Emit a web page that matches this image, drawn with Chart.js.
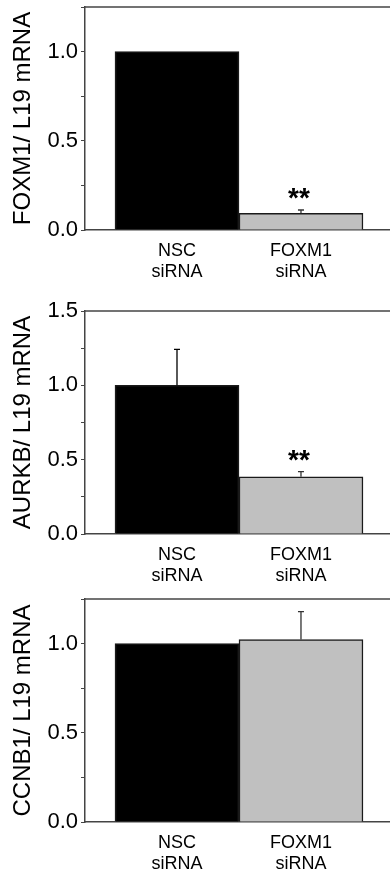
<!DOCTYPE html>
<html>
<head>
<meta charset="utf-8">
<script src="https://cdn.jsdelivr.net/npm/chart.js@4"></script>
<style>
  html, body { margin: 0; padding: 0; background: #fff; }
  body { width: 390px; height: 877px; position: relative; overflow: hidden; }
  .panel { position: absolute; left: 0; width: 390px; }
</style>
</head>
<body>
<div class="panel" style="top:0;height:290px"><canvas id="foxm1Chart"></canvas></div>
<div class="panel" style="top:290px;height:300px"><canvas id="aurkbChart"></canvas></div>
<div class="panel" style="top:590px;height:287px"><canvas id="ccnb1Chart"></canvas></div>
<script>
// categories (same for all panels)
const categories = [["NSC", "siRNA"], ["FOXM1", "siRNA"]];

// FOXM1 / L19
const foxm1Values = [1.0, 0.094];
const foxm1Errors = [0, 0.018];
const foxm1Stars = ["", "**"];

// AURKB / L19
const aurkbValues = [1.0, 0.385];
const aurkbErrors = [0.242, 0.034];
const aurkbStars = ["", "**"];

// CCNB1 / L19
const ccnb1Values = [1.0, 1.023];
const ccnb1Errors = [0, 0.156];
const ccnb1Stars = ["", ""];

const barColors = ["#000000", "#c0c0c0"];
const axisColor = "#444";
const fontFamily = "'Liberation Sans', Arial, sans-serif";

// error bars + significance stars, positioned through the scales
const errorBarPlugin = {
    id: "errorBars",
    afterDatasetsDraw(chart) {
        const ctx = chart.ctx;
        const ds = chart.data.datasets[0];
        const xs = chart.scales.x;
        const ys = chart.scales.y;
        ctx.save();
        ds.data.forEach((pt, i) => {
            const err = ds.errors[i];
            const px = xs.getPixelForValue(pt.x);
            const top = ys.getPixelForValue(pt.y + err);
            if (err > 0) {
                ctx.strokeStyle = i === 0 ? "#000" : "#333";
                ctx.lineWidth = 1.3;
                ctx.beginPath();
                ctx.moveTo(px, ys.getPixelForValue(pt.y));
                ctx.lineTo(px, top);
                ctx.moveTo(px - 3, top);
                ctx.lineTo(px + 3, top);
                ctx.stroke();
            }
            if (ds.stars[i]) {
                ctx.fillStyle = "#000";
                ctx.font = "bold 28px " + fontFamily;
                ctx.textAlign = "center";
                ctx.textBaseline = "alphabetic";
                ctx.fillText(ds.stars[i], px - 2, top - 3);
            }
        });
        ctx.restore();
    },
};

// top frame line
const framePlugin = {
    id: "frame",
    afterDraw(chart) {
        const { ctx, chartArea } = chart;
        ctx.save();
        ctx.strokeStyle = axisColor;
        ctx.lineWidth = 1.5;
        ctx.beginPath();
        ctx.moveTo(chartArea.left, chartArea.top);
        ctx.lineTo(chartArea.right, chartArea.top);
        ctx.stroke();
        ctx.restore();
    },
};

function makeChart(id, title, values, errors, stars, yMax, topPad, xHeight) {
    const ctx = document.getElementById(id).getContext("2d");
    return new Chart(ctx, {
        type: "bar",
        data: {
            datasets: [
                {
                    data: values.map((v, i) => ({ x: i, y: v })),
                    errors: errors,
                    stars: stars,
                    backgroundColor: barColors,
                    borderColor: "#1a1a1a",
                    borderWidth: 1.5,
                    barPercentage: 1,
                    categoryPercentage: 1,
                },
            ],
        },
        options: {
            responsive: true,
            maintainAspectRatio: false,
            animation: false,
            layout: { padding: { top: topPad, left: 0, right: 0, bottom: 0 } },
            scales: {
                x: {
                    type: "linear",
                    min: -0.742,
                    max: 1.718,
                    offset: false,
                    grid: { display: true, drawOnChartArea: false, drawTicks: false, offset: false },
                    border: { display: true, color: axisColor, width: 1.5 },
                    afterBuildTicks: (scale) => {
                        scale.ticks = categories.map((c, i) => ({ value: i }));
                    },
                    ticks: {
                        autoSkip: false,
                        maxRotation: 0,
                        padding: 10,
                        color: "#000",
                        font: { family: fontFamily, size: 18, lineHeight: 1.2 },
                        callback: (value) => categories[value],
                    },
                    afterFit: (scale) => {
                        scale.height = xHeight;
                        scale.paddingLeft = 0;
                        scale.paddingRight = 0;
                    },
                },
                y: {
                    min: 0,
                    max: yMax,
                    grid: { display: true, drawOnChartArea: false, drawTicks: true, tickLength: 4, color: axisColor },
                    border: { display: true, color: axisColor, width: 1.5 },
                    ticks: {
                        stepSize: 0.25,
                        padding: 3,
                        color: "#000",
                        font: { family: fontFamily, size: 22 },
                        callback: (value) => (Math.abs(value * 2 - Math.round(value * 2)) < 1e-6 ? value.toFixed(1) : ""),
                    },
                    title: {
                        display: true,
                        text: title,
                        color: "#000",
                        padding: { top: 8.6, bottom: 0 },
                        font: { family: fontFamily, size: 24, lineHeight: 1.2 },
                    },
                    afterFit: (scale) => {
                        scale.width = 85;
                        scale.paddingTop = 0;
                        scale.paddingBottom = 0;
                    },
                },
            },
            plugins: {
                legend: { display: false },
                tooltip: { enabled: false },
            },
        },
        plugins: [errorBarPlugin, framePlugin],
    });
}

makeChart("foxm1Chart", "FOXM1/ L19 mRNA", foxm1Values, foxm1Errors, foxm1Stars, 1.25, 7, 60);
makeChart("aurkbChart", "AURKB/ L19 mRNA", aurkbValues, aurkbErrors, aurkbStars, 1.5, 21, 56);
makeChart("ccnb1Chart", "CCNB1/ L19 mRNA", ccnb1Values, ccnb1Errors, ccnb1Stars, 1.25, 9, 55);
</script>
</body>
</html>
